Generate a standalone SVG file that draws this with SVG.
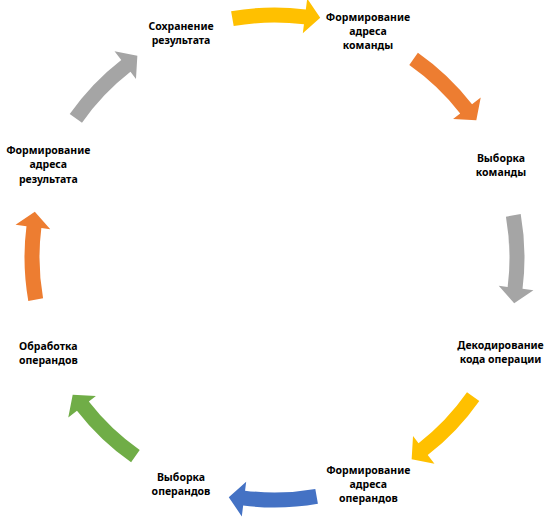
<svg xmlns="http://www.w3.org/2000/svg" xmlns:xlink="http://www.w3.org/1999/xlink" width="552" height="521" viewBox="0 0 552 521">
<style>
.lbl{font-family:"Noto Sans","Open Sans","Liberation Sans",sans-serif;font-weight:700;font-size:10.5px;fill:#000;text-anchor:middle}
.y{fill:#FFC000}.o{fill:#ED7D31}.g{fill:#A5A5A5}.b{fill:#4472C4}.gr{fill:#70AD47}
</style>
<defs>
<path id="arr" d="M231.09,11.30 A250,250 0 0 1 305.83,9.47 L307.21,-1.44 L320.22,17.82 L302.82,33.28 L303.95,24.35 A235,235 0 0 0 233.69,26.07 Z"/>
</defs>
<rect width="552" height="521" fill="#fff"/>
<g id="connectors">
<use xlink:href="#arr" class="y"/>
<use xlink:href="#arr" class="o" transform="rotate(45 274.5 257.5)"/>
<use xlink:href="#arr" class="g" transform="rotate(90 274.5 257.5)"/>
<use xlink:href="#arr" class="y" transform="rotate(135 274.5 257.5)"/>
<use xlink:href="#arr" class="b" transform="rotate(180 274.5 257.5)"/>
<use xlink:href="#arr" class="gr" transform="rotate(225 274.5 257.5)"/>
<use xlink:href="#arr" class="o" transform="rotate(270 274.5 257.5)"/>
<use xlink:href="#arr" class="g" transform="rotate(315 274.5 257.5)"/>
</g>
<g id="node-save"><text class="lbl" x="181" y="29.5">Сохранение</text><text class="lbl" x="181" y="43.8">результата</text></g>
<g id="node-cmd-addr"><text class="lbl" x="368" y="20.7">Формирование</text><text class="lbl" x="368" y="35">адреса</text><text class="lbl" x="368" y="49.3">команды</text></g>
<g id="node-cmd-fetch"><text class="lbl" x="501" y="161.7">Выборка</text><text class="lbl" x="501" y="175.5">команды</text></g>
<g id="node-decode"><text class="lbl" x="500.5" y="349.3">Декодирование</text><text class="lbl" x="500.5" y="363">кода операции</text></g>
<g id="node-op-addr"><text class="lbl" x="368.3" y="474">Формирование</text><text class="lbl" x="368.3" y="488">адреса</text><text class="lbl" x="368.3" y="502">операндов</text></g>
<g id="node-op-fetch"><text class="lbl" x="181" y="480.7">Выборка</text><text class="lbl" x="181" y="494.5">операндов</text></g>
<g id="node-process"><text class="lbl" x="48.3" y="350">Обработка</text><text class="lbl" x="48.3" y="363.8">операндов</text></g>
<g id="node-res-addr"><text class="lbl" x="48.3" y="154">Формирование</text><text class="lbl" x="48.3" y="168.3">адреса</text><text class="lbl" x="48.3" y="182.5">результата</text></g>
</svg>
